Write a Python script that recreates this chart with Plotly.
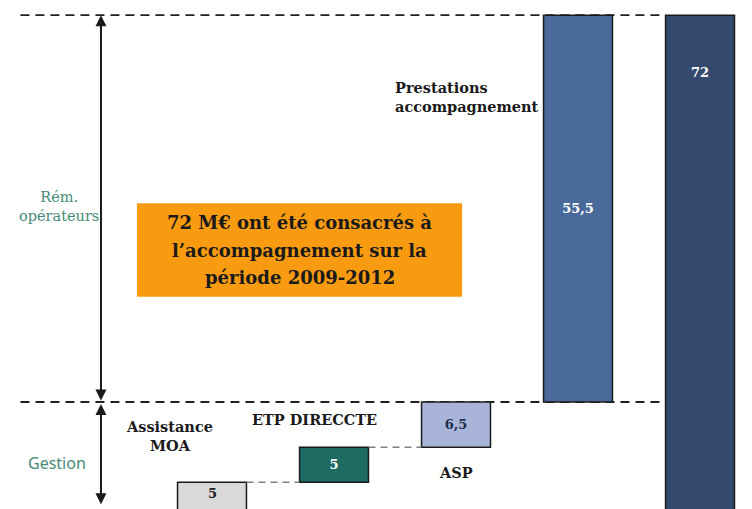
import plotly.graph_objects as go

# waterfall data (M€)
categories = ["Assistance MOA", "ETP DIRECCTE", "ASP", "Prestations accompagnement", "Total"]
values = [5, 5, 6.5, 55.5, 72]
bases = [0, 5, 10, 16.5, 0]
value_labels = ["5", "5", "6,5", "55,5", "72"]
bar_colors = ["#d9d9d9", "#1d6b62", "#a9b5d8", "#4a6a9b", "#34496d"]
label_colors = ["#222222", "#ffffff", "#1f2d4f", "#ffffff", "#ffffff"]
callout_lines = ["72 M€ ont été consacrés à", "l’accompagnement sur la", "période 2009-2012"]

serif = "DejaVu Serif"
xs = list(range(len(categories)))
bw = 0.565

fig = go.Figure()
fig.add_trace(go.Bar(
    x=xs[1:4], y=values[1:4], base=bases[1:4], width=bw,
    marker=dict(color=bar_colors[1:4], line=dict(color="#1a1a1a", width=1.5)),
    text=["<b>%s</b>" % t for t in value_labels[1:4]], textposition="inside",
    insidetextanchor="middle",
    textfont=dict(family=serif, size=13, color=label_colors[1:4]),
    constraintext="none", hoverinfo="skip",
))
for i in [0, 4]:
    fig.add_trace(go.Bar(
        x=[xs[i]], y=[values[i]], base=[bases[i]], width=bw,
        marker=dict(color=bar_colors[i], line=dict(color="#1a1a1a", width=1.5)),
        hoverinfo="skip",
    ))

# labels of the first bar (cut at the bottom) and of the total bar
fig.add_annotation(x=xs[0], y=values[0] - 1.6, text="<b>5</b>", showarrow=False,
                   font=dict(family=serif, size=13, color=label_colors[0]))
fig.add_annotation(x=xs[4], y=values[4] - 8.2, text="<b>72</b>", showarrow=False,
                   font=dict(family=serif, size=13, color=label_colors[4]))

# connectors between the small bars
for i in range(2):
    top = bases[i] + values[i]
    fig.add_shape(type="line", x0=xs[i] + bw / 2, x1=xs[i + 1] - bw / 2, y0=top, y1=top,
                  line=dict(color="#7f7f7f", width=1.5, dash="7px,5px"))

# big dashed reference lines
x_left = -1.57
for yv in [bases[3], values[4]]:
    fig.add_shape(type="line", x0=x_left, x1=xs[4] - bw / 2, y0=yv, y1=yv,
                  line=dict(color="#222222", width=1.8, dash="9px,6px"), layer="below")

# double-headed arrows on the left
x_arrow = -0.91
for y_a, y_b in [(bases[3], values[4]), (1.6, bases[3] - 0.3)]:
    fig.add_annotation(x=x_arrow, y=y_b, ax=x_arrow, ay=y_a, xref="x", yref="y",
                       axref="x", ayref="y", text="", showarrow=True,
                       arrowhead=2, arrowside="end+start", arrowsize=1.1,
                       arrowwidth=2, arrowcolor="#1a1a1a")

group_color = "#478a78"
fig.add_annotation(x=-1.25, y=44.5, text="Rém.<br>opérateurs", showarrow=False,
                   font=dict(family=serif, size=14.5, color=group_color))
fig.add_annotation(x=-1.27, y=7.75, text="Gestion", showarrow=False,
                   font=dict(family="Noto Sans", size=16, color=group_color))

# category labels
label_font = dict(family=serif, size=14.5, color="#1a1a1a")
fig.add_annotation(x=-0.35, y=11.6, text="<b>Assistance<br>MOA</b>", showarrow=False, font=label_font)
fig.add_annotation(x=0.84, y=14.0, text="<b>ETP DIRECCTE</b>", showarrow=False, font=label_font)
fig.add_annotation(x=2.0, y=6.45, text="<b>ASP</b>", showarrow=False, font=label_font)
fig.add_annotation(x=1.484, y=60.2, text="<b>Prestations<br>accompagnement</b>", showarrow=False,
                   xanchor="left", align="left", font=label_font)

# orange callout
fig.add_shape(type="rect", x0=-0.615, x1=2.05, y0=31.6, y1=45.0,
              fillcolor="#f89b10", line=dict(width=0), layer="below")
for k, line in enumerate(callout_lines):
    fig.add_annotation(x=0.72, y=42.3 - 4.0 * k, text="<b>%s</b>" % line, showarrow=False,
                       font=dict(family=serif, size=18, color="#1a1a1a"))

fig.update_layout(
    width=744, height=501, margin=dict(l=0, r=0, t=0, b=0),
    paper_bgcolor="white", plot_bgcolor="white", showlegend=False, barmode="overlay",
    xaxis=dict(range=[-1.672, 4.426], visible=False),
    yaxis=dict(range=[1.15, 73.03], visible=False),
)
fig.write_html("out.html")
